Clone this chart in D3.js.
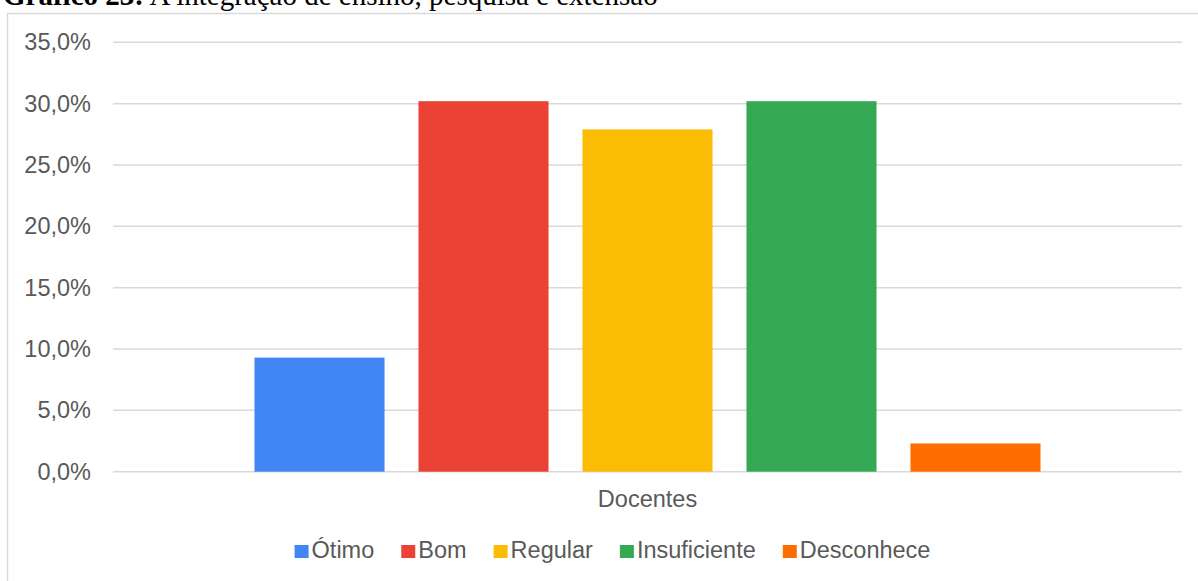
<!DOCTYPE html>
<html>
<head>
<meta charset="utf-8">
<script src="https://cdn.jsdelivr.net/npm/d3@7"></script>
<style>
  body { margin: 0; background: #fff; }
  svg { display: block; }
</style>
</head>
<body>
<svg id="chart" width="1198" height="581"></svg>
<script>
var categories = ["Docentes"];
var series = ["Ótimo", "Bom", "Regular", "Insuficiente", "Desconhece"];
var values = [9.3, 30.2, 27.9, 30.2, 2.3];
var colors = ["#4285f4", "#ea4335", "#fbbc04", "#34a853", "#ff6d01"];
var yTicks = [0, 5, 10, 15, 20, 25, 30, 35];

var svg = d3.select("#chart");
var font = "'Liberation Sans', Arial, sans-serif";
var textColor = "#595959";

// chart frame (runs past the right and bottom edge like the original)
svg.append("rect")
    .attr("x", 7.5).attr("y", 13.5)
    .attr("width", 1300).attr("height", 700)
    .attr("fill", "#fff")
    .attr("stroke", "#d9d9d9")
    .attr("stroke-width", 1.5);

// title, cut at the top
var title = svg.append("text")
    .attr("x", 3).attr("y", 5)
    .style("font-family", "'Liberation Serif', 'Times New Roman', serif")
    .style("font-size", "29px")
    .attr("fill", "#000");
title.append("tspan").attr("font-weight", "bold").text("Gráfico 23:");
title.append("tspan").text(" A integração de ensino, pesquisa e extensão");

// plot area (note: "top" is taken by window.top, so use other names)
var plotLeft = 113, plotRight = 1182, plotTop = 42.3, plotBottom = 471.7;

var y = d3.scaleLinear().domain([0, 35]).range([plotBottom, plotTop]);

var x0 = d3.scaleBand().domain(categories).range([plotLeft, plotRight])
    .paddingInner(0).paddingOuter(0.18);
var x1 = d3.scaleBand().domain(series).range([0, x0.bandwidth()])
    .paddingInner(0.207).paddingOuter(0);

// gridlines
svg.append("g")
    .selectAll("line")
    .data(yTicks)
    .enter().append("line")
    .attr("x1", plotLeft).attr("x2", plotRight)
    .attr("y1", function(d) { return y(d); })
    .attr("y2", function(d) { return y(d); })
    .attr("stroke", "#d9d9d9")
    .attr("stroke-width", 1.5);

// y axis labels
var yAxis = d3.axisLeft(y)
    .tickValues(yTicks)
    .tickSize(0)
    .tickPadding(22)
    .tickFormat(function(d) { return d.toFixed(1).replace(".", ",") + "%"; });

var yg = svg.append("g")
    .attr("transform", "translate(" + plotLeft + ",0)")
    .call(yAxis);
yg.select(".domain").remove();
yg.selectAll("text")
    .style("font-family", font)
    .style("font-size", "23.5px")
    .attr("fill", textColor);

// bars
var groups = svg.append("g")
    .selectAll("g")
    .data(categories)
    .enter().append("g")
    .attr("transform", function(d) { return "translate(" + x0(d) + ",0)"; });

groups.selectAll("rect")
    .data(series.map(function(s, i) { return { name: s, value: values[i], color: colors[i] }; }))
    .enter().append("rect")
    .attr("x", function(d) { return x1(d.name); })
    .attr("width", x1.bandwidth())
    .attr("y", function(d) { return y(d.value); })
    .attr("height", function(d) { return plotBottom - y(d.value); })
    .attr("fill", function(d) { return d.color; });

// category label
var xAxis = d3.axisBottom(x0).tickSize(0).tickPadding(19);
var xg = svg.append("g")
    .attr("transform", "translate(0," + plotBottom + ")")
    .call(xAxis);
xg.select(".domain").remove();
xg.selectAll("text")
    .style("font-family", font)
    .style("font-size", "23.5px")
    .attr("fill", textColor);

// legend
var legend = svg.append("g");
var cx = 0;
series.forEach(function(s, i) {
    var item = legend.append("g").attr("transform", "translate(" + cx + ",0)");
    item.append("rect")
        .attr("x", 0).attr("y", -13)
        .attr("width", 14).attr("height", 13)
        .attr("fill", colors[i]);
    var t = item.append("text")
        .attr("x", 17).attr("y", 0)
        .style("font-family", font)
        .style("font-size", "23.5px")
        .attr("fill", textColor)
        .text(s);
    cx += 17 + t.node().getComputedTextLength() + 27;
});
var legendWidth = cx - 27;
legend.attr("transform", "translate(" + (612.5 - legendWidth / 2) + ",558)");
</script>
</body>
</html>
